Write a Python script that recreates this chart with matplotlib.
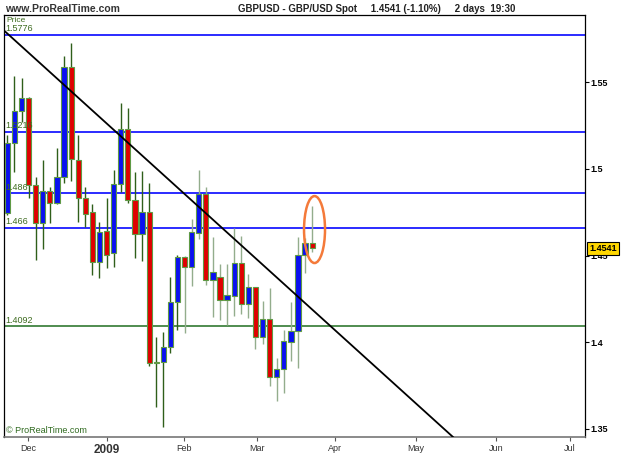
import matplotlib
matplotlib.use("Agg")
import matplotlib.pyplot as plt
from matplotlib.patches import Ellipse

plt.rcParams['font.family'] = ['Liberation Sans', 'DejaVu Sans']

# 2-day GBP/USD candles, Nov 2008 - Mar 2009 (open, high, low, close)
opens = [1.4744, 1.5150, 1.5335, 1.5408, 1.4908, 1.4686, 1.4873, 1.4802, 1.4955, 1.5588,
         1.5052, 1.4831, 1.4750, 1.4464, 1.4642, 1.4513, 1.4913, 1.5229, 1.4821, 1.4623,
         1.4750, 1.3884, 1.3884, 1.3969, 1.4229, 1.4493, 1.4435, 1.4628, 1.4854, 1.4358,
         1.4374, 1.4243, 1.4266, 1.4458, 1.4220, 1.4316, 1.4029, 1.4131, 1.3795, 1.3842,
         1.3998, 1.4065, 1.4503, 1.4571]
highs = [1.5197, 1.5538, 1.5523, 1.5416, 1.4954, 1.5052, 1.4898, 1.5123, 1.5655, 1.5727,
         1.5197, 1.4898, 1.4798, 1.4694, 1.4832, 1.4994, 1.5380, 1.5351, 1.4984, 1.4986,
         1.4917, 1.4029, 1.4060, 1.4377, 1.4503, 1.4497, 1.4709, 1.4994, 1.4898, 1.4607,
         1.4451, 1.4451, 1.4659, 1.4613, 1.4393, 1.4318, 1.4237, 1.4310, 1.3906, 1.4072,
         1.4233, 1.4605, 1.4604, 1.4786]
lows = [1.4734, 1.4983, 1.5272, 1.4832, 1.4474, 1.4538, 1.4686, 1.4798, 1.4919, 1.4931,
        1.4695, 1.4666, 1.4387, 1.4370, 1.4426, 1.4434, 1.4867, 1.4802, 1.4486, 1.4468,
        1.3861, 1.3623, 1.3510, 1.3935, 1.4069, 1.4054, 1.4324, 1.4594, 1.4329, 1.4143,
        1.4127, 1.4098, 1.4153, 1.4162, 1.4139, 1.3960, 1.3988, 1.3743, 1.3659, 1.3703,
        1.3890, 1.3847, 1.4399, 1.4520]
closes = [1.5149, 1.5335, 1.5412, 1.4908, 1.4686, 1.4873, 1.4802, 1.4955, 1.5588, 1.5058,
          1.4831, 1.4738, 1.4465, 1.4634, 1.4503, 1.4913, 1.5229, 1.4821, 1.4623, 1.4750,
          1.3880, 1.3879, 1.3969, 1.4229, 1.4493, 1.4435, 1.4634, 1.4854, 1.4358, 1.4403,
          1.4243, 1.4269, 1.4458, 1.4220, 1.4316, 1.4029, 1.4131, 1.3795, 1.3842, 1.4003,
          1.4064, 1.4503, 1.4571, 1.4541]

# horizontal levels
blue_levels = [1.5776, 1.5216, 1.486, 1.466]
green_level = 1.4092
level_labels = ["1.5776", "1.5216", "1.486", "1.466", "1.4092"]

# downtrend line (bar index, price)
trend_x = [-0.54, 62.86]
trend_y = [1.5803, 1.3451]

# month ticks in bar units
month_pos = [2.92, 14.06, 24.92, 35.22, 46.22, 57.64, 68.93, 79.36]
month_lab = ["Dec", "2009", "Feb", "Mar", "Apr", "May", "Jun", "Jul"]

y_ticks = [1.35, 1.4, 1.45, 1.5, 1.55]
last_price = 1.4541

fig = plt.figure(figsize=(6.25, 4.69), dpi=100)
ax = fig.add_axes([4/625, 32/469, 581/625, 422/469])

n = len(opens)
idx = list(range(n))

for i in idx:
    wick_col = '#2f5f1a' if i < 25 else '#93ad8c'
    ax.vlines(i, lows[i], highs[i], color=wick_col, lw=1.0, zorder=2)

for i in idx:
    o, c = opens[i], closes[i]
    col = '#0a10f0' if c > o else '#e00000'
    h = max(abs(c - o), 0.0004)
    ax.bar(i, h, bottom=min(o, c), width=0.74, color=col,
           edgecolor='#5f9a45', linewidth=0.8, zorder=3)

for lv in blue_levels:
    ax.axhline(lv, color='#1a1aff', lw=1.3, zorder=1)
ax.axhline(green_level, color='#1f6e1f', lw=1.1, zorder=1)

for lv, lab in zip(blue_levels + [green_level], level_labels):
    ax.text(0.002, lv + 0.0009, lab, transform=ax.get_yaxis_transform(),
            fontsize=6.5, color='#3d6b1f', va='bottom', ha='left')

ax.plot(trend_x, trend_y, color='black', lw=1.3, zorder=4)

ell = Ellipse((43.33, 1.465), 2.96, 0.0387, fill=False, edgecolor='#f47a3a', lw=1.8, zorder=5)
ax.add_patch(ell)

ax.set_xlim(-0.47, 81.48)
ax.set_ylim(1.3451, 1.589)

ax.yaxis.tick_right()
ax.set_yticks(y_ticks)
ax.set_yticklabels(["1.35", "1.4", "1.45", "1.5", "1.55"], fontsize=6.5, fontweight='bold')
ax.tick_params(axis='y', length=3, width=0.8, pad=1, colors='black')

ax.set_xticks(month_pos)
ax.set_xticklabels(month_lab, fontsize=6.5, color='#333333')
ax.tick_params(axis='x', length=3, width=0.8, pad=2, colors='#555555')
for t in ax.get_xticklabels():
    t.set_color('#333333')
    if t.get_text() == "2009":
        t.set_fontsize(8.5)
        t.set_fontweight('bold')

for s in ['left', 'top', 'right']:
    ax.spines[s].set_color('black')
    ax.spines[s].set_linewidth(0.9)
ax.spines['bottom'].set_color('#777777')
ax.spines['bottom'].set_linewidth(1.2)

ax.annotate(f"{last_price:.4f}", xy=(1, last_price), xycoords=('axes fraction', 'data'),
            xytext=(3, 0), textcoords='offset points', fontsize=6.5, fontweight='bold',
            va='center', ha='left',
            bbox=dict(boxstyle='square,pad=0.2', fc='#ffd700', ec='black', lw=0.8))

ax.text(0.004, 0.995, "Price", transform=ax.transAxes, fontsize=6, color='#3d6b1f',
        va='top', ha='left')
ax.text(0.003, 0.005, "© ProRealTime.com", transform=ax.transAxes, fontsize=6.5,
        color='#2f6a1f', va='bottom', ha='left')

fig.text(5/625, 1 - 9/469, "www.ProRealTime.com", fontsize=7.5, fontweight='bold',
         color='#333333', va='center', ha='left')
fig.text(238/625, 1 - 9/469, "GBPUSD - GBP/USD Spot     1.4541 (-1.10%)     2 days  19:30",
         fontsize=7, fontweight='bold', color='#222222', va='center', ha='left')

fig.savefig("out.png", dpi=100)
